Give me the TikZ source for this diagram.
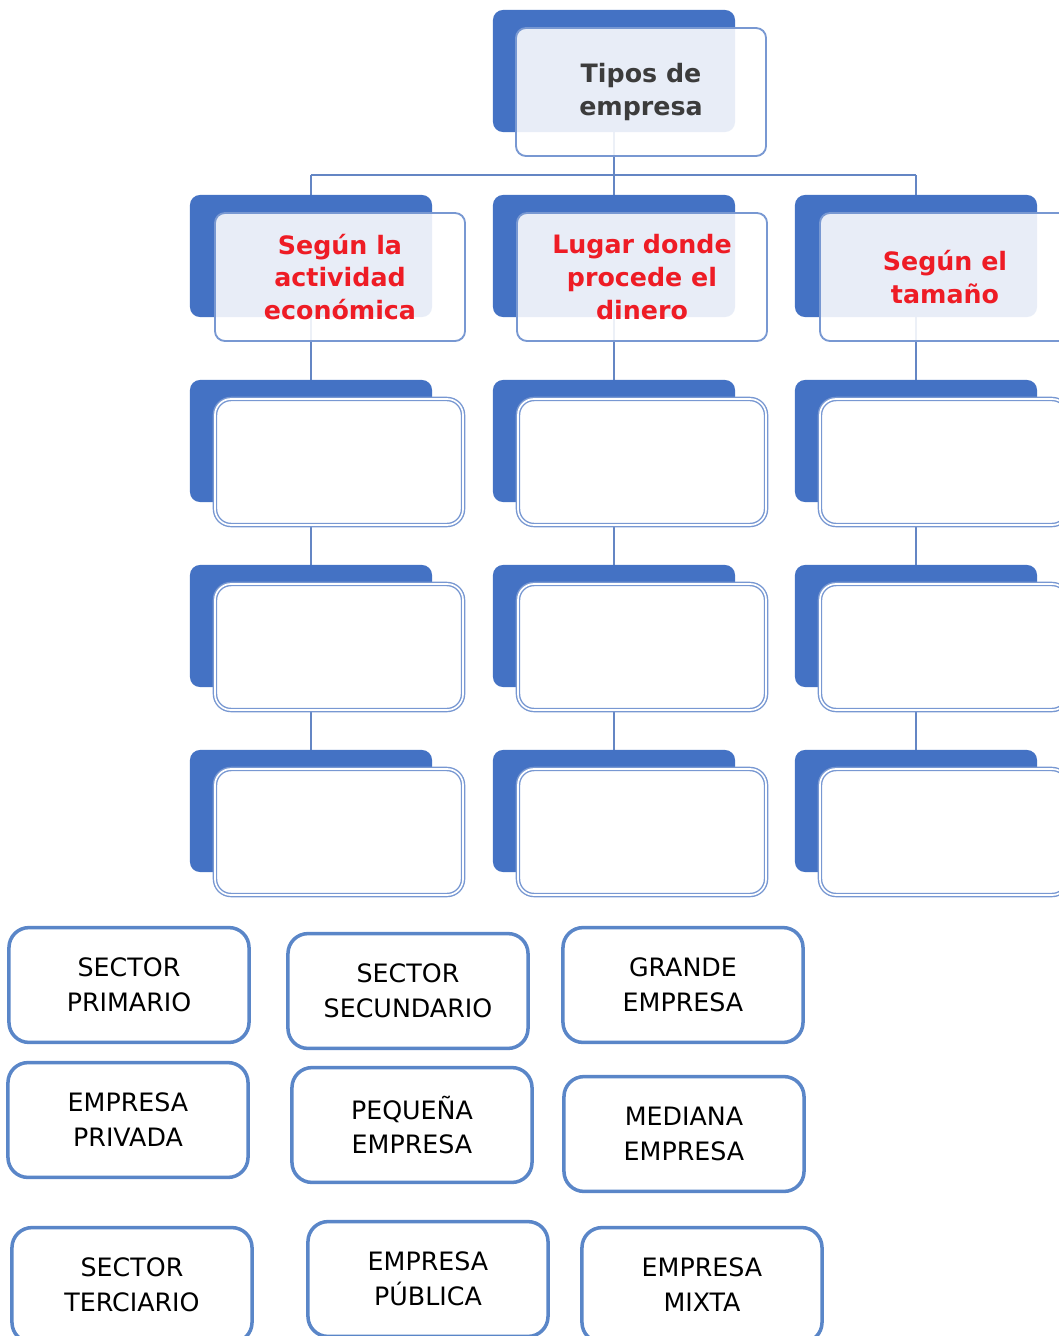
\documentclass[tikz,border=0pt]{standalone}
\usepackage{fontspec}
\setmainfont{DejaVu Sans}
\usetikzlibrary{backgrounds}

\definecolor{backblue}{HTML}{4472C4}
\definecolor{framecol}{HTML}{7898D2}
\definecolor{linkcol}{HTML}{6486C4}
\definecolor{cardcol}{HTML}{5A86C8}
\definecolor{headred}{HTML}{EE1C25}
\definecolor{titlegray}{HTML}{3C3C3C}

\tikzset{
  backbox/.style={rectangle, rounded corners=0.25cm, fill=backblue,
    minimum width=6.05cm, minimum height=3.05cm},
  headbox/.style={rectangle, rounded corners=0.25cm, draw=framecol, line width=1.3pt,
    fill=white, fill opacity=0.88, text opacity=1,
    minimum width=6.25cm, minimum height=3.2cm, align=center,
    font=\bfseries\fontsize{18}{23.4}\selectfont},
  slotbox/.style={rectangle, rounded corners=0.4cm, draw=framecol, line width=1pt,
    double=white, double distance=1.2pt, fill=white,
    minimum width=6.2cm, minimum height=3.15cm},
  card/.style={rectangle, rounded corners=0.5cm, draw=cardcol, line width=2.5pt,
    fill=white, minimum width=6cm, minimum height=2.87cm, align=center,
    font=\fontsize{18}{24.8}\selectfont},
  link/.style={draw=linkcol, line width=1.6pt}
}

\begin{document}
\begin{tikzpicture}[x=0.025cm, y=-0.025cm]
  \path[use as bounding box] (0,0) rectangle (1059,1336);
  \clip (0,0) rectangle (1059,1336);

  % root
  \node[backbox] (tiposback) at (614,71) {};
  \node[headbox, text=titlegray] (tipos) at (641,92) {Tipos de\\empresa};

  % criteria
  \node[backbox] (actback) at (311,256) {};
  \node[headbox, text=headred] (act) at (340,277) {Según la\\actividad\\económica};
  \node[backbox] (lugarback) at (614,256) {};
  \node[headbox, text=headred] (lugar) at (642,277) {Lugar donde\\procede el\\dinero};
  \node[backbox] (tamback) at (916,256) {};
  \node[headbox, text=headred] (tam) at (945,277) {Según el\\tamaño};

  % empty slots
  \foreach \r/\y in {1/441,2/626,3/811}
    \foreach \c/\x in {1/311,2/614,3/916} {
      \node[backbox] (b\c\r) at (\x,\y) {};
      \node[slotbox] (s\c\r) at (\x+28,\y+21) {};
    }

  % cards
  \node[card] (prim) at (129,985) {SECTOR\\PRIMARIO};
  \node[card] (secu) at (408,991) {SECTOR\\SECUNDARIO};
  \node[card] (grande) at (683,985) {GRANDE\\EMPRESA};
  \node[card] (priv) at (128,1120) {EMPRESA\\PRIVADA};
  \node[card] (peq) at (412,1125) {PEQUEÑA\\EMPRESA};
  \node[card] (med) at (684,1134) {MEDIANA\\EMPRESA};
  \node[card] (terc) at (132,1285) {SECTOR\\TERCIARIO};
  \node[card] (pub) at (428,1279) {EMPRESA\\PÚBLICA};
  \node[card] (mixta) at (702,1285) {EMPRESA\\MIXTA};

  \begin{scope}[on background layer]
    \fill[white] (0,0) rectangle (1059,1336);
    \coordinate (bus) at (0,175);
    \draw[link] (tiposback.center) -- (tiposback |- bus);
    \draw[link] (actback |- bus) -- (tamback |- bus);
    \foreach \n in {actback,lugarback,tamback}
      \draw[link] (\n |- bus) -- (\n.center);
    \draw[link] (actback.center) -- (b13.center);
    \draw[link] (lugarback.center) -- (b23.center);
    \draw[link] (tamback.center) -- (b33.center);
  \end{scope}
\end{tikzpicture}
\end{document}
